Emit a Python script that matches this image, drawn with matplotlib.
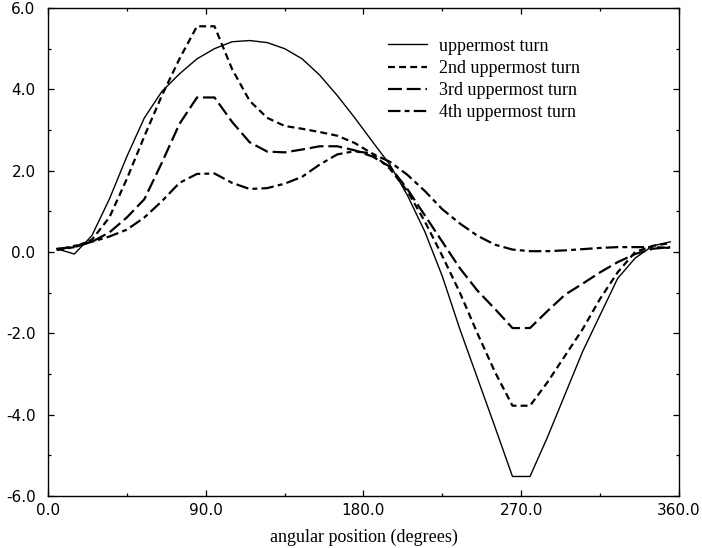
import numpy as np
import matplotlib.pyplot as plt
from matplotlib.ticker import MultipleLocator, FormatStrFormatter

plt.rcParams['lines.scale_dashes'] = False

# angular positions (degrees), one sample every 10 degrees
angle = np.arange(5, 360, 10)

turn1 = [0.08, -0.05, 0.40, 1.30, 2.35, 3.30, 3.95, 4.38, 4.75, 5.00,
         5.17, 5.20, 5.15, 5.00, 4.75, 4.35, 3.85, 3.30, 2.72, 2.15,
         1.40, 0.50, -0.60, -1.90, -3.10, -4.30, -5.52, -5.52, -4.55, -3.50,
         -2.45, -1.55, -0.65, -0.15, 0.15, 0.25]
turn2 = [0.05, 0.12, 0.30, 0.85, 1.80, 2.85, 3.85, 4.75, 5.55, 5.55,
         4.50, 3.72, 3.30, 3.10, 3.03, 2.95, 2.86, 2.68, 2.42, 2.05,
         1.50, 0.75, -0.10, -1.00, -2.00, -2.95, -3.78, -3.78, -3.20, -2.55,
         -1.90, -1.15, -0.50, 0.00, 0.15, 0.22]
turn3 = [0.08, 0.12, 0.25, 0.48, 0.85, 1.30, 2.20, 3.15, 3.80, 3.80,
         3.20, 2.70, 2.47, 2.45, 2.52, 2.60, 2.60, 2.50, 2.35, 2.10,
         1.55, 0.90, 0.25, -0.40, -0.95, -1.40, -1.87, -1.87, -1.45, -1.05,
         -0.78, -0.50, -0.25, -0.05, 0.08, 0.12]
turn4 = [0.05, 0.15, 0.25, 0.38, 0.55, 0.85, 1.25, 1.70, 1.92, 1.93,
         1.70, 1.55, 1.57, 1.68, 1.85, 2.15, 2.40, 2.48, 2.42, 2.22,
         1.90, 1.50, 1.05, 0.70, 0.40, 0.18, 0.06, 0.02, 0.02, 0.04,
         0.07, 0.10, 0.12, 0.12, 0.12, 0.10]

labels = ['uppermost turn', '2nd uppermost turn',
          '3rd uppermost turn', '4th uppermost turn']

serif = {'family': 'Liberation Serif', 'size': 13}

fig = plt.figure(figsize=(7.02, 5.48), dpi=100)
ax = fig.add_axes([0.0684, 0.0949, 0.8988, 0.8905])

ax.plot(angle, turn1, color='black', lw=1.0, ls='-', label=labels[0])
ax.plot(angle, turn2, color='black', lw=1.6, ls=(0, (5, 3.0)), label=labels[1])
ax.plot(angle, turn3, color='black', lw=1.6, ls=(0, (10, 3.5)), label=labels[2])
ax.plot(angle, turn4, color='black', lw=1.6, ls=(0, (9, 3, 3.5, 3)), label=labels[3])

ax.set_xlim(0, 360)
ax.set_ylim(-6, 6)
ax.xaxis.set_major_locator(MultipleLocator(90))
ax.xaxis.set_minor_locator(MultipleLocator(45))
ax.yaxis.set_major_locator(MultipleLocator(2))
ax.yaxis.set_minor_locator(MultipleLocator(1))
ax.xaxis.set_major_formatter(FormatStrFormatter('%.1f'))
ax.yaxis.set_major_formatter(FormatStrFormatter('%.1f'))

ax.tick_params(which='both', direction='in', top=True, right=True, width=0.9)
ax.tick_params(which='major', length=4.5, labelsize=11)
ax.tick_params(axis='y', which='major', pad=9)
ax.tick_params(axis='x', which='major', pad=5)
ax.tick_params(which='minor', length=2.5)
for spine in ax.spines.values():
    spine.set_linewidth(1.0)

ax.set_xlabel('angular position (degrees)', fontdict=serif, labelpad=8)

ax.legend(loc='upper left', bbox_to_anchor=(0.5388, 0.939), frameon=False,
          prop=serif, handlelength=2.16, handletextpad=0.67,
          labelspacing=0.29, borderpad=0, borderaxespad=0)

plt.savefig('out.png', dpi=100)
